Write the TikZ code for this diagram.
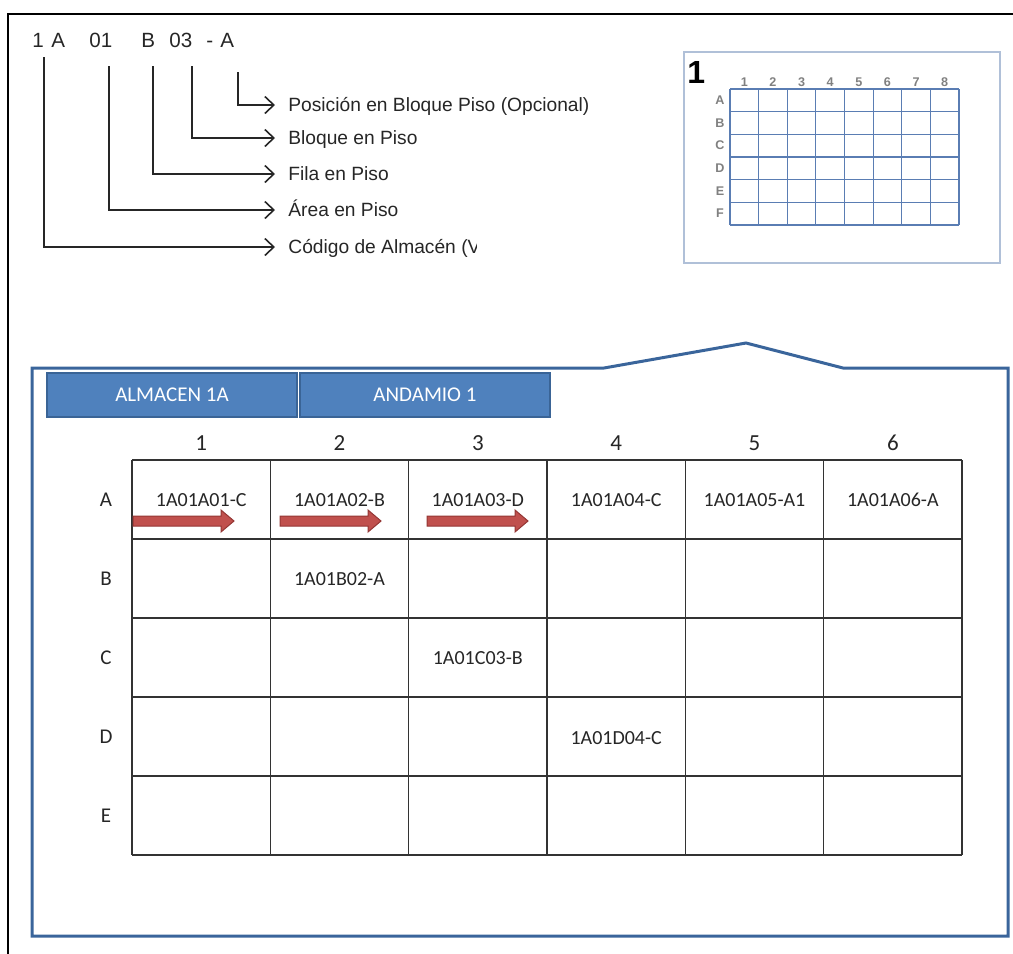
\documentclass[tikz,border=0pt]{standalone}
\usepackage{fontspec}
\setmainfont{Liberation Sans}
\newfontfamily\calfont{Carlito}
\usetikzlibrary{arrows.meta}
\definecolor{panelblue}{HTML}{3A659B}
\definecolor{tabblue}{HTML}{4F81BD}
\definecolor{tabedge}{HTML}{3A6496}
\definecolor{arrowred}{HTML}{C0504D}
\definecolor{arrowedge}{HTML}{943634}
\definecolor{gridblue}{HTML}{5A7DB3}
\definecolor{boxblue}{HTML}{B0C0D8}
\definecolor{inkgray}{HTML}{262626}
\begin{document}
\begin{tikzpicture}[x=0.5pt,y=-0.5pt,
  codetxt/.style={font=\fontsize{10.3}{12}\selectfont, text=inkgray, inner sep=0pt, anchor=base west},
  fieldlab/.style={font=\fontsize{9.6}{11}\selectfont, text=inkgray, anchor=west,
    inner xsep=6.5pt, inner ysep=0pt, text height=0.7em, text depth=0.05em},
  codeline/.style={draw=inkgray, line width=0.8pt,
    -{Straight Barb[length=4.5pt,width=8.5pt,line width=0.8pt]}},
  minibox/.style={draw=boxblue, line width=0.8pt},
  minigrid/.style={draw=gridblue, line width=0.55pt},
  minilab/.style={font=\bfseries\fontsize{6.3}{7}\selectfont, text=black!50, inner sep=0pt},
  panel/.style={draw=panelblue, line width=1.5pt, line join=miter},
  tab/.style={draw=tabedge, fill=tabblue, line width=0.7pt, text=white,
    font=\calfont\fontsize{10.5}{12}\selectfont, minimum width=125pt, minimum height=22pt, inner sep=0pt},
  colhead/.style={font=\calfont\fontsize{11.5}{13}\selectfont, text=inkgray, inner sep=0pt},
  rowhead/.style={font=\calfont\fontsize{10.5}{12}\selectfont, text=inkgray, inner sep=0pt},
  cell/.style={font=\calfont\fontsize{10}{12}\selectfont, text=inkgray, inner sep=0pt},
  tline/.style={draw=black!80, line width=0.8pt},
  blockarrow/.style={fill=arrowred, draw=arrowedge, line width=0.5pt, line join=miter}
]
\useasboundingbox (0,0) rectangle (1013,954);

% page frame
\draw[line width=1.1pt] (8,954) -- (8,14) -- (1013,14);

% location code and its parts
\node[codetxt] (c1) at (32,47) {1};
\node[codetxt] (c2) at (51,47) {A};
\node[codetxt] (c3) at (89,47) {01};
\node[codetxt] (c4) at (141,47) {B};
\node[codetxt] (c5) at (169,47) {03};
\node[codetxt] (c6) at (206,47) {-};
\node[codetxt] (c7) at (220,47) {A};

\coordinate (t1) at (44,57);
\coordinate (t2) at (109,66);
\coordinate (t3) at (153,66);
\coordinate (t4) at (192,66);
\coordinate (t5) at (238,72);

\node[fieldlab] (lab1) at (275,105) {Posición en Bloque Piso (Opcional)};
\node[fieldlab] (lab2) at (275,138) {Bloque en Piso};
\node[fieldlab] (lab3) at (275,174) {Fila en Piso};
\node[fieldlab] (lab4) at (275,210) {Área en Piso};
\begin{scope}
  \clip (0,0) rectangle (476,954);
  \node[fieldlab] (lab5) at (275,247) {Código de Almacén (V};
\end{scope}

\draw[codeline] (t5) |- (lab1.west);
\draw[codeline] (t4) |- (lab2.west);
\draw[codeline] (t3) |- (lab3.west);
\draw[codeline] (t2) |- (lab4.west);
\draw[codeline] (t1) |- (lab5.west);

% floor block sketch
\draw[minibox] (684,52) rectangle (1000,263);
\node[font=\bfseries\fontsize{16}{16}\selectfont, anchor=base west, inner sep=0pt] (blk) at (687,83) {1};
\foreach \i in {0,...,8}
  \draw[minigrid] ({730+\i*28.625},89) -- ({730+\i*28.625},225);
\foreach \j in {0,...,6}
  \draw[minigrid] (730,{89+\j*22.667}) -- (959,{89+\j*22.667});
\foreach \c [count=\i from 0] in {1,...,8}
  \node[minilab] (mc\c) at ({744.3+\i*28.625},82) {\c};
\foreach \r [count=\j from 0] in {A,...,F}
  \node[minilab] (mr\r) at (720,{100.3+\j*22.667}) {\r};

% scaffold panel
\draw[panel] (32,368) -- (604,368) -- (746,343) -- (843,368) -- (1008,368)
  -- (1008,936) -- (32,936) -- cycle;

\node[tab] (tab1) at (172,395) {ALMACEN 1A};
\node[tab] (tab2) at (425,395) {ANDAMIO 1};

% position table
\foreach \c [count=\i from 0] in {1,...,6}
  \node[colhead] (h\c) at ({201.2+\i*138.333},443) {\c};
\foreach \r [count=\j from 0] in {A,...,E}
  \node[rowhead] (r\r) at (106,{499.5+\j*79}) {\r};
\foreach \i in {0,...,6}
  \draw[tline] ({132+\i*138.333},460) -- ({132+\i*138.333},855);
\foreach \j in {0,...,5}
  \draw[tline] (132,{460+\j*79}) -- (962,{460+\j*79});

\node[cell] (a1) at (201.2,500) {1A01A01-C};
\node[cell] (a2) at (339.5,500) {1A01A02-B};
\node[cell] (a3) at (477.8,500) {1A01A03-D};
\node[cell] (a4) at (616.2,500) {1A01A04-C};
\node[cell] (a5) at (754.5,500) {1A01A05-A1};
\node[cell] (a6) at (892.8,500) {1A01A06-A};
\node[cell] (b2) at (339.5,579) {1A01B02-A};
\node[cell] (c3) at (477.8,658) {1A01C03-B};
\node[cell] (d4) at (616.2,738) {1A01D04-C};

% direction arrows along row A
\foreach \x in {133,280,427}
  \filldraw[blockarrow] (\x,516) -- ({\x+88},516) -- ({\x+88},510) -- ({\x+101},521)
    -- ({\x+88},532) -- ({\x+88},526) -- (\x,526) -- cycle;
\end{tikzpicture}
\end{document}
